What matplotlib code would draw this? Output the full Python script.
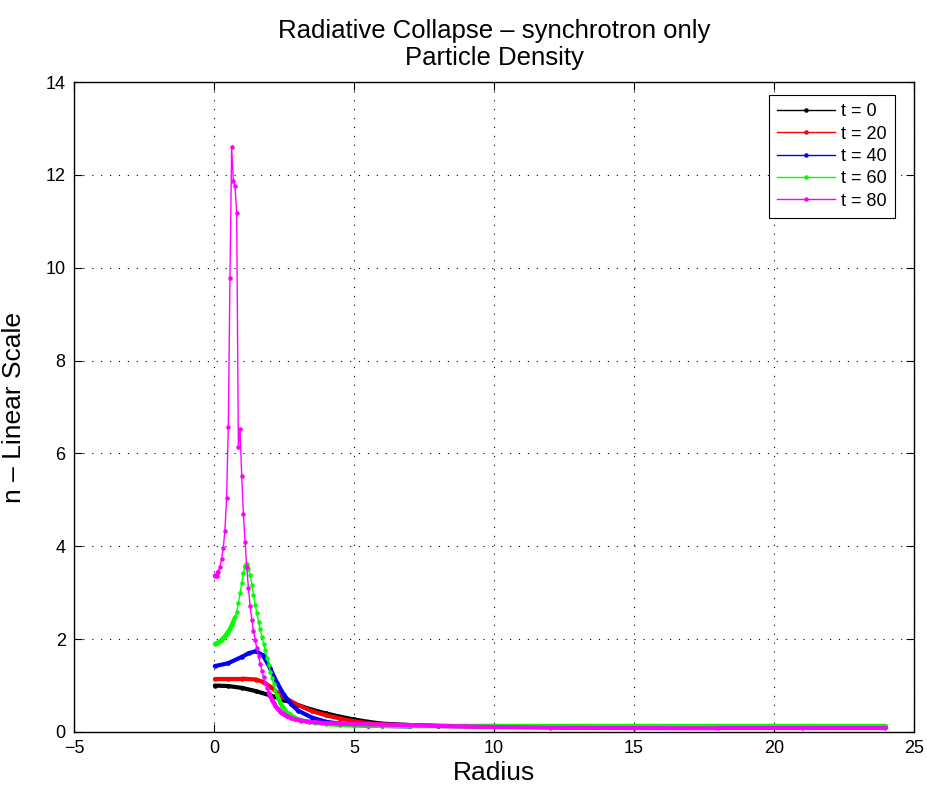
import numpy as np
import matplotlib
matplotlib.use('Agg')
import matplotlib.pyplot as plt
from matplotlib.collections import LineCollection

plt.rcParams['font.family'] = ['Liberation Sans', 'DejaVu Sans']

# ---------------- data ----------------
labels = ['t = 0', 't = 20', 't = 40', 't = 60', 't = 80']
colors = ['#000000', '#ff0000', '#0000ff', '#00ff00', '#ff00ff']

r_t0 = [0.03, 0.5, 1.0, 1.5, 2.0, 2.5, 3.0, 3.5, 4.0, 4.5, 5.0, 5.5, 6.0, 7.0, 8.0,
        10.0, 12.0, 15.0, 18.0, 21.0, 23.97]
n_t0 = [1.00, 0.99, 0.95, 0.88, 0.79, 0.69, 0.58, 0.48, 0.40, 0.33, 0.27, 0.22, 0.18,
        0.15, 0.13, 0.12, 0.11, 0.11, 0.11, 0.11, 0.11]

r_t20 = [0.03, 0.5, 1.0, 1.5, 1.75, 2.0, 2.25, 2.5, 3.0, 3.5, 4.0, 4.5, 5.0, 5.5, 6.0,
         7.0, 8.0, 10.0, 12.0, 15.0, 18.0, 21.0, 23.97]
n_t20 = [1.15, 1.15, 1.15, 1.13, 1.08, 0.98, 0.86, 0.75, 0.58, 0.45, 0.36, 0.29, 0.23,
         0.19, 0.16, 0.14, 0.13, 0.12, 0.11, 0.11, 0.11, 0.11, 0.11]

r_t40 = [0.03, 0.5, 1.0, 1.25, 1.5, 1.75, 2.0, 2.25, 2.5, 2.75, 3.0, 3.5, 4.0, 4.5, 5.0,
         5.5, 6.0, 7.0, 8.0, 10.0, 12.0, 15.0, 18.0, 21.0, 23.97]
n_t40 = [1.42, 1.48, 1.62, 1.70, 1.74, 1.65, 1.38, 1.06, 0.80, 0.60, 0.46, 0.31, 0.22,
         0.18, 0.15, 0.14, 0.13, 0.12, 0.12, 0.12, 0.12, 0.12, 0.12, 0.12, 0.12]

r_t60 = [0.03, 0.09, 0.15, 0.21, 0.27, 0.33, 0.39, 0.45, 0.51, 0.57, 0.63, 0.69, 0.75,
         0.81, 0.87, 0.93, 0.99, 1.05, 1.11, 1.17, 1.23, 1.29, 1.35, 1.41, 1.47, 1.53,
         1.59, 1.65, 1.71, 1.77, 1.83, 1.89, 1.95, 2.01, 2.07, 2.13, 2.19, 2.25, 2.31,
         2.37, 2.43, 2.55, 2.70, 2.85, 3.0, 3.3, 3.6, 4.0, 4.5, 5.0, 6.0, 7.0, 8.0,
         10.0, 12.0, 15.0, 18.0, 21.0, 23.97]
n_t60 = [1.90, 1.91, 1.93, 1.95, 1.98, 2.02, 2.06, 2.11, 2.16, 2.22, 2.30, 2.38, 2.47,
         2.59, 2.77, 2.99, 3.20, 3.42, 3.56, 3.62, 3.52, 3.38, 3.17, 2.95, 2.74, 2.56,
         2.38, 2.22, 2.05, 1.90, 1.76, 1.60, 1.45, 1.30, 1.16, 1.03, 0.91, 0.80, 0.71,
         0.63, 0.56, 0.46, 0.38, 0.32, 0.28, 0.23, 0.20, 0.17, 0.15, 0.14, 0.13, 0.13,
         0.13, 0.13, 0.13, 0.13, 0.13, 0.13, 0.13]

r_t80 = [0.03, 0.09, 0.15, 0.21, 0.27, 0.33, 0.39, 0.45, 0.51, 0.57, 0.63, 0.69, 0.75,
         0.81, 0.87, 0.93, 0.99, 1.05, 1.11, 1.17, 1.23, 1.29, 1.35, 1.41, 1.47, 1.53,
         1.59, 1.65, 1.71, 1.77, 1.83, 1.89, 1.95, 2.01, 2.07, 2.13, 2.19, 2.25, 2.31,
         2.37, 2.43, 2.49, 2.60, 2.75, 2.90, 3.10, 3.40, 4.0, 4.5, 5.0, 6.0, 7.0, 8.0,
         9.0, 10.0, 12.0, 15.0, 18.0, 21.0, 23.97]
n_t80 = [3.37, 3.36, 3.45, 3.56, 3.72, 3.96, 4.34, 5.03, 6.56, 9.77, 12.59, 11.87, 11.76,
         11.17, 6.14, 6.52, 5.51, 4.70, 4.10, 3.55, 3.10, 2.72, 2.42, 2.18, 1.98, 1.80,
         1.63, 1.47, 1.32, 1.18, 1.06, 0.95, 0.85, 0.77, 0.69, 0.63, 0.57, 0.52, 0.48,
         0.44, 0.41, 0.38, 0.34, 0.30, 0.27, 0.245, 0.22, 0.19, 0.18, 0.17, 0.16, 0.15,
         0.13, 0.12, 0.11, 0.09, 0.085, 0.08, 0.08, 0.08]

series_r = [r_t0, r_t20, r_t40, r_t60, r_t80]
series_n = [n_t0, n_t20, n_t40, n_t60, n_t80]

x_ticks = [-5, 0, 5, 10, 15, 20, 25]
y_ticks = [0, 2, 4, 6, 8, 10, 12, 14]

# ---------------- figure ----------------
fig = plt.figure(figsize=(9.27, 7.89), dpi=100)
ax = fig.add_axes([74 / 927, 1 - 732 / 789, (914 - 74) / 927, (732 - 82) / 789])
ax.set_xlim(-5, 25)
ax.set_ylim(0, 14)
ax.set_xticks(x_ticks)
ax.set_yticks(y_ticks)

thick_pt = 3.0
for i, (r, n, c, lab) in enumerate(zip(series_r, series_n, colors, labels)):
    r = np.asarray(r, float)
    n = np.asarray(n, float)
    pts = ax.transData.transform(np.column_stack([r, n]))
    dx = np.diff(pts[:, 0])
    dy = np.diff(pts[:, 1])
    slope = np.abs(dy / dx)
    segs = [[(r[k], n[k]), (r[k + 1], n[k + 1])] for k in range(len(r) - 1) if slope[k] < 2.5]
    if segs:
        lc = LineCollection(segs, colors=c, linewidths=thick_pt, capstyle='round',
                            joinstyle='round', zorder=2 + i)
        ax.add_collection(lc)
    ax.plot(r, n, '-', color=c, lw=1.0, marker='.', ms=4.5, label=lab, zorder=2 + i)

ax.grid(True, color='k', linestyle=(0, (1, 7)), linewidth=0.8)
ax.tick_params(direction='in', top=True, right=True, length=6, width=0.8,
               labelsize=13, pad=6)
for s in ax.spines.values():
    s.set_linewidth(1.0)

ax.set_xlabel('Radius', fontsize=19, labelpad=3)
ax.set_ylabel('n \u2013 Linear Scale', fontsize=19, labelpad=14)
ax.set_title('Radiative Collapse \u2013 synchrotron only\nParticle Density',
             fontsize=18.5, pad=12, linespacing=1.15)

leg = ax.legend(loc='upper right', bbox_to_anchor=((895 - 74) / 840, (732 - 95) / 650),
                borderaxespad=0, fontsize=13, handlelength=3.2, handletextpad=0.35,
                labelspacing=0.3, borderpad=0.45, fancybox=False, framealpha=1,
                edgecolor='k', numpoints=1)
leg.get_frame().set_linewidth(0.8)
leg.set_zorder(20)

fig.savefig('out.png', dpi=100)
